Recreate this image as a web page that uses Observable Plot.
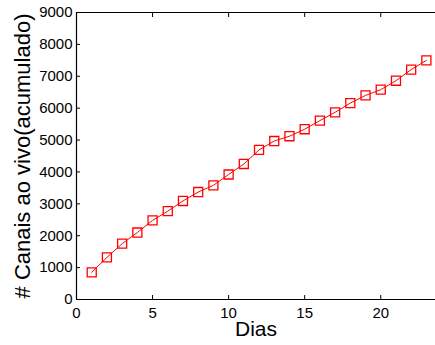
<!DOCTYPE html>
<html><head><meta charset="utf-8">
<script src="https://cdn.jsdelivr.net/npm/d3@7"></script>
<script src="https://cdn.jsdelivr.net/npm/@observablehq/plot@0.6"></script>
<style>body{margin:0;background:#fff}</style>
</head><body><div id="chart"></div>
<script>
const days = [1,2,3,4,5,6,7,8,9,10,11,12,13,14,15,16,17,18,19,20,21,22,23];
const channels = [850,1320,1750,2100,2480,2770,3090,3370,3580,3920,4250,4690,4970,5120,5340,5610,5870,6160,6400,6580,6860,7210,7500];
const xTicks = [0,5,10,15,20];
const yTicks = [0,1000,2000,3000,4000,5000,6000,7000,8000,9000];
const xLabel = "Dias";
const yLabel = "# Canais ao vivo(acumulado)";

const data = days.map((d,i)=>({day:d, value:channels[i]}));
const font = "Liberation Sans, Arial, sans-serif";

const chart = Plot.plot({
  width: 435, height: 345,
  marginLeft: 76, marginRight: 0, marginTop: 12, marginBottom: 46,
  style: {fontFamily: font, fontSize: "15px", background: "#fff", color: "#000"},
  x: {domain: [0, 23.6]},
  y: {domain: [0, 9000]},
  marks: [
    Plot.ruleY([0, 9000], {stroke: "#000", strokeWidth: 1.2}),
    Plot.ruleX([0], {stroke: "#000", strokeWidth: 1.2}),
    Plot.axisX(xTicks, {anchor: "bottom", tickSize: -4, tickPadding: 12, fontSize: 15, label: null}),
    Plot.axisX(xTicks.slice(1), {anchor: "top", tickSize: -4, text: null, label: null}),
    Plot.axisY(yTicks, {anchor: "left", tickSize: -4, tickPadding: 8, fontSize: 15, tickFormat: d => String(d), label: null}),
    Plot.line(data, {x: "day", y: "value", stroke: "#ff0000", strokeWidth: 1}),
    Plot.dot(data, {x: "day", y: "value", symbol: "square", r: 5.1, stroke: "#ff0000", strokeWidth: 1.3, fill: "none"}),
    Plot.text([xLabel], {frameAnchor: "bottom", dy: 36, fontSize: 21, fill: "#000"}),
    Plot.text([yLabel], {frameAnchor: "left", textAnchor: "middle", rotate: -90, dx: -54, fontSize: 22, fill: "#000"})
  ]
});
document.getElementById("chart").appendChild(chart);
</script>
</body></html>
